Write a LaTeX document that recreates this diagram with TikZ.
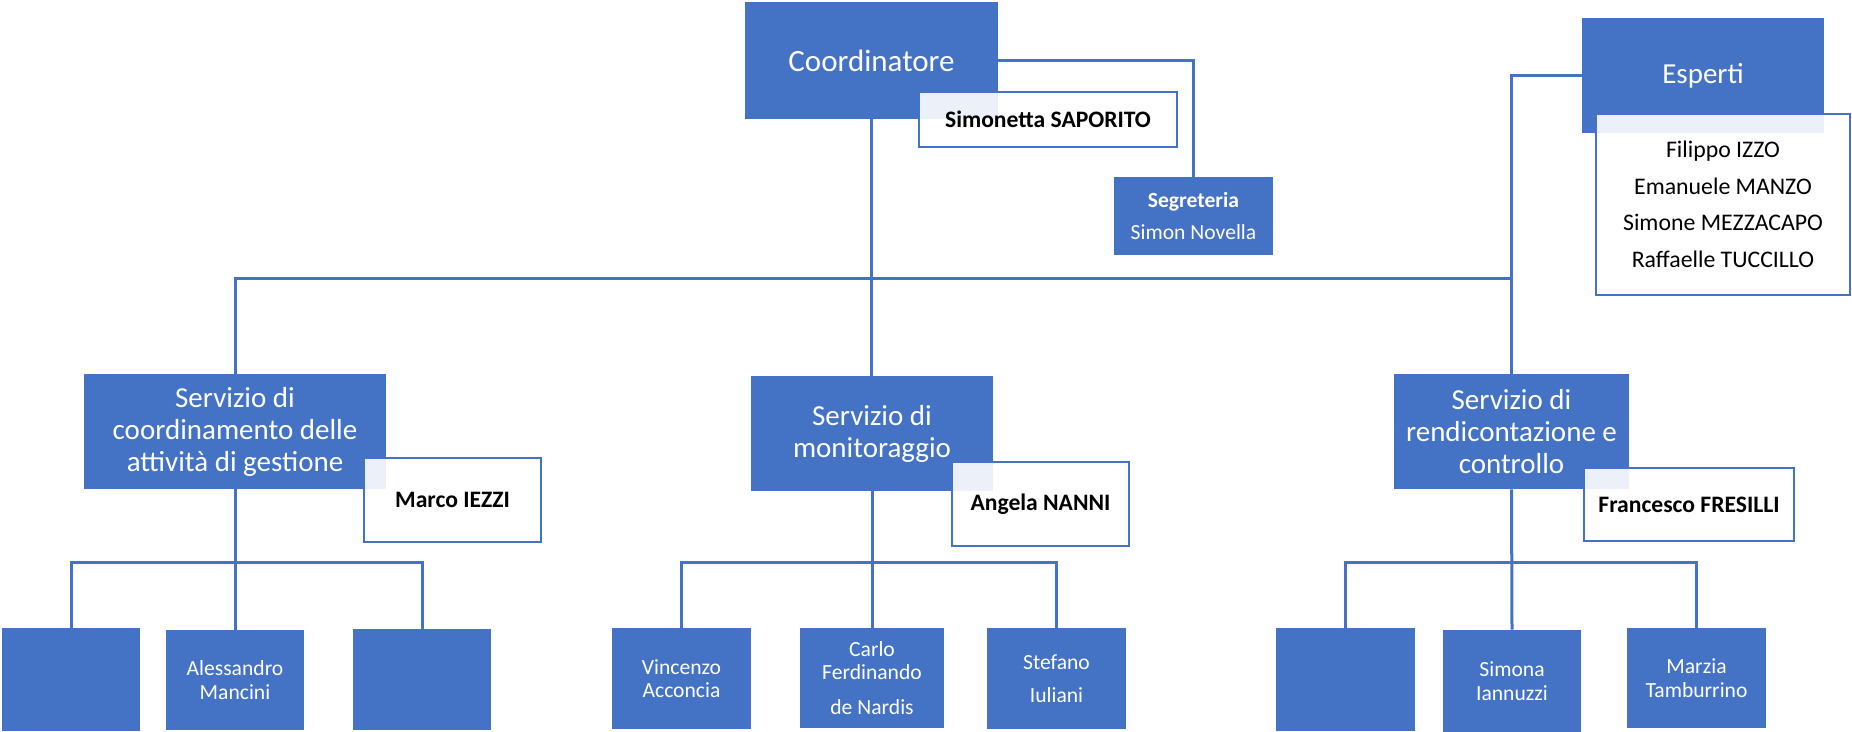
\documentclass[tikz,border=0pt]{standalone}
\usepackage{fontspec}
\setmainfont{Carlito}
\usetikzlibrary{backgrounds}
\definecolor{orgblue}{HTML}{4472C4}
\newcommand\setfs[2]{\fontsize{#1}{#2}\selectfont}
\begin{document}
\begin{tikzpicture}[x=0.5pt,y=-0.5pt,
  sz/.style 2 args={minimum width=#1*0.5pt, minimum height=#2*0.5pt},
  unit/.style={fill=orgblue, text=white, inner sep=0pt, align=center},
  head/.style={unit, font=\setfs{15.5}{18}},
  service/.style={unit, font=\setfs{14.5}{16}},
  staff/.style={unit, font=\setfs{10.8}{11.7}},
  namebox/.style={draw=orgblue, line width=1pt, fill=white, fill opacity=0.9,
    text opacity=1, text=black, inner sep=0pt, align=center,
    font=\bfseries\setfs{11.8}{14}},
  link/.style={draw=orgblue, line width=1.5pt}]
\useasboundingbox (0,0) rectangle (1852,732);

% top level
\node[head, sz={253}{117}] (coord) at (871.5,60.5) {Coordinatore};
\node[namebox, sz={258}{55}] (saporito) at (1048,119.5) {Simonetta SAPORITO};
\node[unit, sz={159}{78}, font=\setfs{10.8}{16}] (segr) at (1193.5,216) {\textbf{Segreteria}\\Simon Novella};
\node[head, sz={242}{115}, font=\setfs{14.5}{17}] (esperti) at (1703,75.5) {Esperti};
\node[namebox, sz={254}{181}, font=\setfs{11.9}{18.3}] (elenco) at (1723,204.5)
  {Filippo IZZO\\Emanuele MANZO\\Simone MEZZACAPO\\Raffaelle TUCCILLO};

% services
\node[service, sz={302}{115}] (svc1) at (235,431.5) {Servizio di\\coordinamento delle\\attività di gestione};
\node[namebox, sz={177}{84}] (iezzi) at (452.5,500) {Marco IEZZI};
\node[service, sz={242}{115}] (svc2) at (872,433.5) {Servizio di\\monitoraggio};
\node[namebox, sz={177}{84}] (nanni) at (1040.5,504) {Angela NANNI};
\node[service, sz={235}{115}] (svc3) at (1511.5,431.5) {Servizio di\\rendicontazione e\\controllo};
\node[namebox, sz={210}{73}] (fresilli) at (1689,504.5) {Francesco FRESILLI};

% staff
\node[staff, sz={138}{103}] (s11) at (71,679.5) {};
\node[staff, sz={138}{100}] (s12) at (235,680) {Alessandro\\Mancini};
\node[staff, sz={138}{101}] (s13) at (422,679.5) {};
\node[staff, sz={139}{101}] (s21) at (681.5,678.5) {Vincenzo\\Acconcia};
\node[staff, sz={144}{100}] (s22) at (872,678) {Carlo\\Ferdinando\\[5.8pt]de Nardis};
\node[staff, sz={139}{101}] (s23) at (1056.5,678.5) {Stefano\\[4.8pt]Iuliani};
\node[staff, sz={139}{103}] (s31) at (1345.5,679.5) {};
\node[staff, sz={138}{102}] (s32) at (1512,681) {Simona\\Iannuzzi};
\node[staff, sz={139}{100}] (s33) at (1696.5,678) {Marzia\\Tamburrino};

% connectors
\coordinate (bus) at (0,279);
\coordinate (br) at (0,562);
\begin{scope}[on background layer]
\draw[link] (coord.south) -- (coord.south |- svc2.north);
\draw[link] (coord.east) -| (segr.north);
\draw[link] (svc1.north) |- (bus -| svc3.north);
\draw[link] (esperti.west) -| (svc3.north);

\draw[link] (svc1.south) -- (s12.north);
\draw[link] (s11.north) |- (br -| s13.north) -- (s13.north);
\draw[link] (svc2.south) -- (s22.north);
\draw[link] (s21.north) |- (br -| s23.north) -- (s23.north);
\draw[link] (svc3.south) -- (s32.north);
\draw[link] (s31.north) |- (br -| s33.north) -- (s33.north);
\end{scope}
\end{tikzpicture}
\end{document}
